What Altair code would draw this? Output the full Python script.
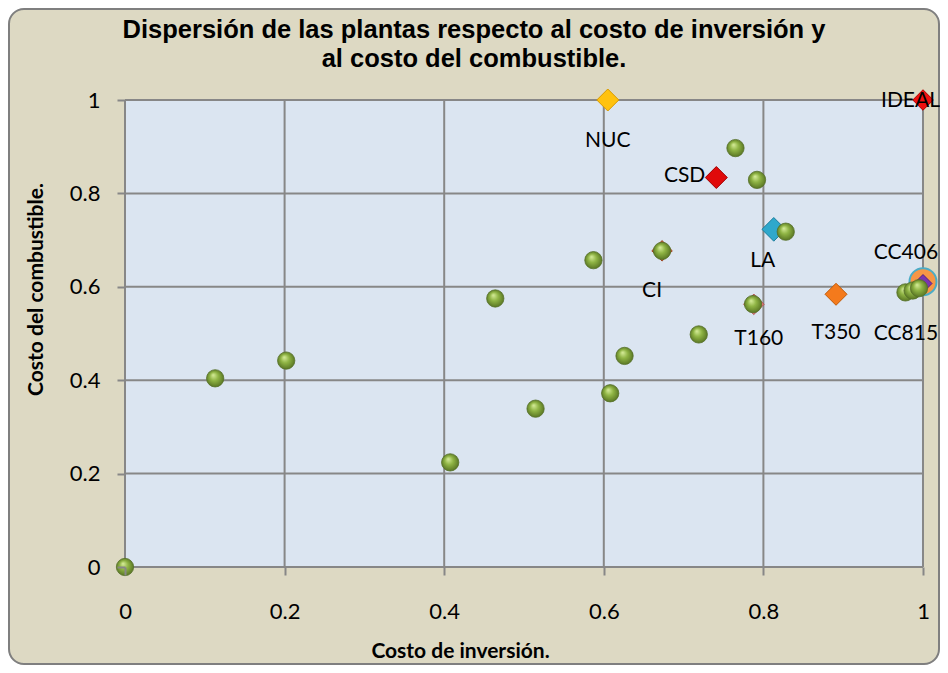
import altair as alt
import pandas as pd

# ---------------- data ----------------
title_lines = ["Dispersión de las plantas respecto al costo de inversión y",
               "al costo del combustible."]
x_title = "Costo de inversión."
y_title = "Costo del combustible."

x_ticks = [0, 0.2, 0.4, 0.6, 0.8, 1.0]
y_ticks = [0, 0.2, 0.4, 0.6, 0.8, 1.0]

green_x = [0.0, 0.113, 0.202, 0.4075, 0.464, 0.5145, 0.587, 0.608, 0.626,
           0.673, 0.719, 0.765, 0.787, 0.792, 0.828, 0.978, 0.987, 0.995]
green_y = [0.0, 0.404, 0.442, 0.224, 0.575, 0.339, 0.657, 0.372, 0.452,
           0.677, 0.498, 0.897, 0.563, 0.829, 0.718, 0.588, 0.592, 0.597]

plant_names = ["IDEAL", "NUC", "CSD", "LA", "CI", "T160", "T350", "CC406", "CC815"]
plant_x = [1.0, 0.605, 0.741, 0.813, 0.673, 0.788, 0.891, 1.0, 1.0]
plant_y = [1.0, 1.0, 0.834, 0.723, 0.677, 0.5625, 0.584, 0.611, 0.607]

# ---------------- styles ----------------
BEIGE = "#DDD9C3"
PLOT_BG = "#DBE5F1"
GRID = "#878787"

marker_style = {
    "IDEAL": dict(shape="diamond", size=420, fill="#F01010", stroke="#B00000"),
    "NUC": dict(shape="diamond", size=484, fill="#FFC20E", stroke="#D89A00"),
    "CSD": dict(shape="diamond", size=484, fill="#E00A0A", stroke="#A00000"),
    "LA": dict(shape="diamond", size=560, fill="#2FA8CC", stroke="#1F7E9C"),
    "CI": dict(shape="diamond", size=420, fill="#C8643A", stroke="#9A4420"),
    "T160": dict(shape="diamond", size=420, fill="#E07A7A", stroke="#B05050"),
    "T350": dict(shape="diamond", size=484, fill="#F47A1C", stroke="#C05A08"),
    "CC406": dict(shape="circle", size=729, fill="#F79646", stroke="#4BACC6"),
    "CC815": dict(shape="diamond", size=324, fill="#7A35B0", stroke="#552080"),
}
label_style = {
    "IDEAL": dict(dx=-42, dy=1, align="left"),
    "NUC": dict(dx=0, dy=41, align="center"),
    "CSD": dict(dx=-11, dy=-2, align="right"),
    "LA": dict(dx=-11, dy=32, align="center"),
    "CI": dict(dx=-10, dy=40, align="center"),
    "T160": dict(dx=5, dy=35, align="center"),
    "T350": dict(dx=0, dy=39, align="center"),
    "CC406": dict(dx=-17, dy=-29, align="center"),
    "CC815": dict(dx=-17, dy=50, align="center"),
}

W, H = 798, 467
PAD = {"left": 117, "top": 92, "right": 17, "bottom": 98}

sx = alt.Scale(domain=[0, 1], nice=False, zero=False)
sy = alt.Scale(domain=[0, 1], nice=False, zero=False)

ax_x = alt.Axis(
    values=x_ticks, title=x_title, grid=False, domain=False,
    ticks=True, tickSize=8, tickColor=GRID, tickWidth=2,
    labelFont="Lato", labelFontSize=22, labelColor="black",
    labelBaseline="alphabetic", labelPadding=43, labelFlush=False,
    labelExpr="format(datum.value, '~g')",
    titleFont="Lato", titleFontSize=21, titleFontWeight="bold", titleColor="black",
    titleX=335, titleY=90, titleBaseline="alphabetic", titleAlign="center",
    zindex=1,
)
ax_y = alt.Axis(
    values=y_ticks, title=y_title, grid=False, domain=False,
    ticks=True, tickSize=8, tickColor=GRID, tickWidth=2,
    labelFont="Lato", labelFontSize=22, labelColor="black",
    labelBaseline="middle", labelPadding=17, labelFlush=False,
    labelExpr="format(datum.value, '~g')",
    titleFont="Lato", titleFontSize=21, titleFontWeight="bold", titleColor="black",
    titleX=-83, titleY=189, titleBaseline="alphabetic", titleAlign="center",
    titleAngle=270, zindex=1,
)


def X(field):
    return alt.X(field, scale=sx, axis=ax_x, title=x_title)


def Y(field):
    return alt.Y(field, scale=sy, axis=ax_y, title=y_title)


green_df = pd.DataFrame({"x": green_x, "y": green_y})
plant_df = pd.DataFrame({"name": plant_names, "x": plant_x, "y": plant_y})
xt_df = pd.DataFrame({"t": x_ticks})
yt_df = pd.DataFrame({"t": y_ticks})
one_df = pd.DataFrame({"x0": [0.0], "x1": [1.0], "y0": [0.0], "y1": [1.0]})

# outer rounded frame
frame = alt.Chart(one_df).mark_rect(
    cornerRadius=15, fill=BEIGE, stroke="#7F7F7F", strokeWidth=2
).encode(
    x=alt.value(-116), x2=alt.value(W + 16), y=alt.value(-91), y2=alt.value(H + 97)
)

# plot area background
plot_bg = alt.Chart(one_df).mark_rect(fill=PLOT_BG).encode(
    x=X("x0:Q"), x2="x1:Q", y=Y("y0:Q"), y2="y1:Q",
)

vgrid = alt.Chart(xt_df).mark_rule(color=GRID, strokeWidth=2).encode(x=X("t:Q"))
hgrid = alt.Chart(yt_df).mark_rule(color=GRID, strokeWidth=2).encode(y=Y("t:Q"))

plant_layers = []
for name in plant_names:
    st = marker_style[name]
    plant_layers.append(
        alt.Chart(plant_df).transform_filter(alt.datum.name == name).mark_point(
            filled=True, shape=st["shape"], size=st["size"], fill=st["fill"],
            stroke=st["stroke"], strokeWidth=2 if name == "CC406" else 1, opacity=1,
        ).encode(x=X("x:Q"), y=Y("y:Q"))
    )

sphere = alt.RadialGradient(
    gradient="radial",
    stops=[
        alt.GradientStop(offset=0, color="#D8EE9C"),
        alt.GradientStop(offset=0.45, color="#8FB444"),
        alt.GradientStop(offset=1, color="#536F20"),
    ],
    x1=0.38, y1=0.3, r1=0, x2=0.5, y2=0.5, r2=0.55,
)

greens = alt.Chart(green_df).mark_point(
    filled=True, shape="circle", size=300, fill=sphere, stroke="#56702A",
    strokeWidth=0.8, opacity=1,
).encode(x=X("x:Q"), y=Y("y:Q"))

label_layers = []
for name in plant_names:
    ls = label_style[name]
    label_layers.append(
        alt.Chart(plant_df).transform_filter(alt.datum.name == name).mark_text(
            font="Lato", fontSize=21, color="black", baseline="middle",
            align=ls["align"], dx=ls["dx"], dy=ls["dy"],
        ).encode(x=X("x:Q"), y=Y("y:Q"), text="name:N")
    )

chart = alt.layer(
    frame, plot_bg, vgrid, hgrid, *plant_layers, greens, *label_layers
).properties(
    width=W, height=H,
    padding=PAD,
    autosize=alt.AutoSizeParams(type="none"),
    background="white",
    title=alt.TitleParams(
        text=title_lines, anchor="middle", offset=0, dx=-50, dy=64,
        font="Liberation Sans", fontSize=25.5, fontWeight="bold", color="black",
        lineHeight=29, baseline="top",
    ),
).configure_view(stroke=None)

chart.save("out.html", embed_options={"renderer": "svg", "actions": False})
